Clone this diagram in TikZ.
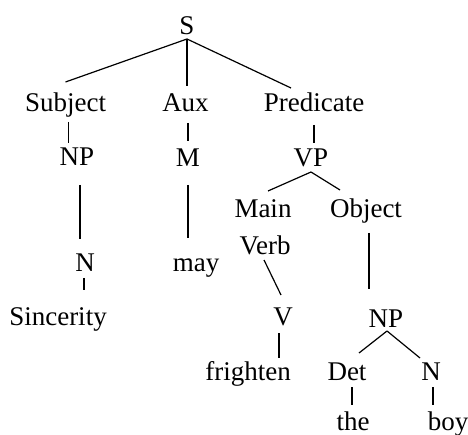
\documentclass[tikz,border=0pt]{standalone}
\usepackage{fontspec}
\setmainfont{Liberation Serif}
\usetikzlibrary{calc}

\begin{document}
\begin{tikzpicture}[x=1pt,y=-1pt,
    	lbl/.style={anchor=base,inner sep=0pt,outer sep=0pt,text height=18pt,text depth=0pt,font=\fontsize{27}{32}\selectfont},
    	branch/.style={line width=1.2pt}]
    	\useasboundingbox (0,0) rectangle (468,435);

    	\node[lbl] (S) at (187,35) {S};
    	\node[lbl] (subject) at (65.5,112) {Subject};
    	\node[lbl] (aux) at (185.5,112) {Aux};
    	\node[lbl] (predicate) at (314,112) {Predicate};
    	\node[lbl] (np1) at (77,166) {NP};
    	\node[lbl] (m) at (188,167) {M};
    	\node[lbl] (vp) at (311,167) {VP};
    	\node[lbl] (main) at (263,218) {Main};
    	\node[lbl] (verb) at (265,255) {Verb};
    	\node[lbl] (object) at (366,218) {Object};
    	\node[lbl] (n1) at (85,272) {N};
    	\node[lbl] (may) at (196,272) {may};
    	\node[lbl] (sincerity) at (58,325) {Sincerity};
    	\node[lbl] (v) at (283,325) {V};
    	\node[lbl] (np2) at (386,327) {NP};
    	\node[lbl] (frighten) at (248,380) {frighten};
    	\node[lbl] (det) at (347,380) {Det};
    	\node[lbl] (n2) at (431,380) {N};
    	\node[lbl] (the) at (353,430) {the};
    	\node[lbl] (boy) at (448,430) {boy};

    	\draw[branch] ($(S.south)+(0,4)$) -- ($(subject.north)+(0,-12)$);
    	\draw[branch] ($(S.south)+(0,4)$) -- ($(S.south |- aux.north)+(0,-8)$);
    	\draw[branch] ($(S.south)+(0,4)$) -- ($(predicate.north)+(-23,-6)$);

    	\draw[branch] ($(subject.south)+(3,10)$) -- ($(subject.south |- np1.north)+(3,-5)$);
    	\draw[branch] ($(m.north |- aux.south)+(0,11)$) -- ($(m.north)+(0,-8)$);
    	\draw[branch] ($(predicate.south)+(0,13)$) -- ($(predicate.south |- vp.north)+(0,-6)$);

    	\draw[branch] ($(np1.south)+(3,19)$) -- ($(np1.south |- n1.north)+(3,-15)$);
    	\draw[branch] ($(m.south)+(0,18)$) -- ($(m.south |- may.north)+(0,-16)$);
    	\draw[branch] ($(vp.south)+(0,5)$) -- ($(main.north)+(5,-9)$);
    	\draw[branch] ($(vp.south)+(0,5)$) -- ($(object.north)+(-26,-10)$);

    	\draw[branch] ($(n1.south)+(-1,6)$) -- ($(n1.south |- sincerity.north)+(-1,-17)$);
    	\draw[branch] ($(verb.south)+(-1,5)$) -- ($(v.north)+(-2,-12)$);
    	\draw[branch] ($(object.south)+(3,15)$) -- ($(object.south |- np2.north)+(3,-20)$);

    	\draw[branch] ($(v.south)+(-4,8)$) -- ($(v.south |- frighten.north)+(-4,-4)$);
    	\draw[branch] ($(np2.south)+(1,4)$) -- ($(det.north)+(12,-9)$);
    	\draw[branch] ($(np2.south)+(1,4)$) -- ($(n2.north)+(-11,-4)$);

    	\draw[branch] ($(det.south)+(5,7)$) -- ($(det.south |- the.north)+(5,-7)$);
    	\draw[branch] ($(n2.south)+(2,7)$) -- ($(n2.south |- boy.north)+(2,-7)$);

    	\end{tikzpicture}
\end{document}
